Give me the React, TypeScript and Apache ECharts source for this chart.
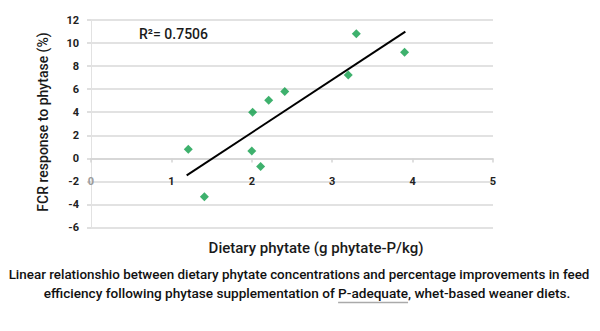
import React, { useEffect, useRef } from "react";
import * as echarts from "echarts";

const phytate = [1.21, 1.41, 2.01, 2.0, 2.11, 2.21, 2.41, 3.2, 3.3, 3.9];
const fcrResponse = [0.78, -3.33, 4.0, 0.64, -0.7, 5.04, 5.8, 7.22, 10.8, 9.2];
const trendX = [1.19, 3.91];
const trendY = [-1.48, 10.99];
const xTicks = { min: 0, max: 5, interval: 1 };
const yTicks = { min: -6, max: 12, interval: 2 };
const rSquared = "R²= 0.7506";
const xTitle = "Dietary phytate (g phytate-P/kg)";
const yTitle = "FCR response to phytase (%)";
const caption1 =
  "Linear relationshio between dietary phytate concentrations and percentage improvements in feed";
const caption2Before = "efficiency following phytase supplementation of ";
const caption2Link = "P-adequate";
const caption2After = ", whet-based weaner diets.";

export default function App() {
  const ref = useRef<HTMLDivElement>(null);
  useEffect(() => {
    document.body.style.margin = "0";
    if (!ref.current) return;
    const chart = echarts.init(ref.current, null, { renderer: "svg" });
    const font = "Roboto, 'Open Sans', sans-serif";
    const cap2Size = 13.6;
    const cap2X = 307;
    const caption2 = caption2Before + caption2Link + caption2After;
    let ux1 = 326;
    let ux2 = 393;
    try {
      const ctx = document.createElement("canvas").getContext("2d");
      if (ctx) {
        ctx.font = `500 ${cap2Size}px ${font}`;
        const full = ctx.measureText(caption2).width;
        const pre = ctx.measureText(caption2Before).width;
        const link = ctx.measureText(caption2Link).width;
        ux1 = cap2X - full / 2 + pre;
        ux2 = ux1 + link;
      }
    } catch (e) {}
    chart.setOption({
      animation: false,
      backgroundColor: "#ffffff",
      grid: { left: 91, right: 107, top: 20, bottom: 103.5 },
      xAxis: {
        type: "value",
        min: xTicks.min,
        max: xTicks.max,
        interval: xTicks.interval,
        offset: -69,
        axisLine: { show: true, onZero: false, lineStyle: { color: "#d4d4d4", width: 1.5 } },
        axisTick: { show: true, length: 4, lineStyle: { color: "#d4d4d4", width: 1.5 } },
        splitLine: { show: false },
        axisLabel: {
          margin: 17,
          color: (v: any) => (Number(v) === 0 ? "#9a9a9a" : "#222"),
          fontWeight: "bold",
          fontSize: 11,
          fontFamily: font,
        },
      },
      yAxis: {
        type: "value",
        min: yTicks.min,
        max: yTicks.max,
        interval: yTicks.interval,
        axisLine: { show: true, onZero: false, lineStyle: { color: "#e2e2e2", width: 1 } },
        axisTick: { show: true, length: 4, lineStyle: { color: "#d4d4d4", width: 1.5 } },
        splitLine: { show: true, lineStyle: { color: "#d9d9d9", width: 1.5 } },
        axisLabel: {
          margin: 12,
          color: "#222",
          fontWeight: "bold",
          fontSize: 11,
          fontFamily: font,
        },
      },
      series: [
        {
          type: "scatter",
          data: phytate.map((x, i) => [x, fcrResponse[i]]),
          symbol: "diamond",
          symbolSize: 9,
          itemStyle: { color: "#0e9e48" },
          z: 3,
        },
        {
          type: "line",
          data: trendX.map((x, i) => [x, trendY[i]]),
          symbol: "none",
          lineStyle: { color: "#000", width: 2 },
          z: 2,
        },
      ],
      graphic: [
        {
          type: "text",
          x: 139,
          y: 34,
          style: {
            text: rSquared,
            fontSize: 14,
            fontWeight: 500,
            fontFamily: font,
            fill: "#1a1a1a",
            verticalAlign: "middle",
            align: "left",
          },
        },
        {
          type: "text",
          x: 43,
          y: 122,
          rotation: Math.PI / 2,
          style: {
            text: yTitle,
            fontSize: 14,
            fontWeight: 500,
            fontFamily: font,
            fill: "#1a1a1a",
            align: "center",
            verticalAlign: "middle",
          },
        },
        {
          type: "text",
          x: 316,
          y: 248,
          style: {
            text: xTitle,
            fontSize: 15,
            fontWeight: 500,
            fontFamily: font,
            fill: "#1a1a1a",
            align: "center",
            verticalAlign: "middle",
          },
        },
        {
          type: "text",
          x: 299,
          y: 274,
          style: {
            text: caption1,
            fontSize: 13.4,
            fontWeight: 500,
            fontFamily: font,
            fill: "#111",
            align: "center",
            verticalAlign: "middle",
          },
        },
        {
          type: "text",
          x: cap2X,
          y: 293,
          style: {
            text: caption2,
            fontSize: cap2Size,
            fontWeight: 500,
            fontFamily: font,
            fill: "#111",
            align: "center",
            verticalAlign: "middle",
          },
        },
        {
          type: "line",
          shape: { x1: ux1, y1: 302.5, x2: ux2, y2: 302.5 },
          style: { stroke: "#aaaaaa", lineWidth: 1.5 },
        },
      ],
    });
    return () => chart.dispose();
  }, []);
  return <div ref={ref} style={{ width: 600, height: 331 }} />;
}
